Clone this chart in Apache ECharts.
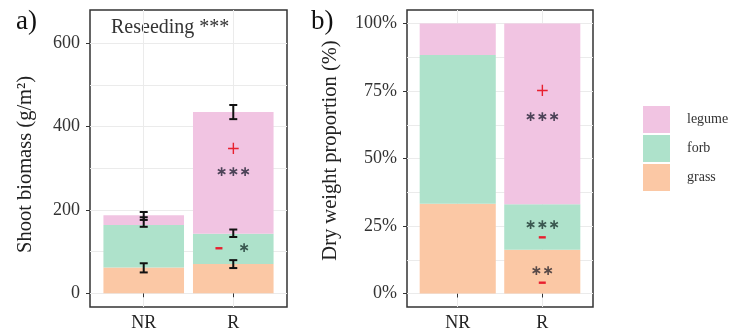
<!DOCTYPE html>
<html>
<head>
<meta charset="utf-8">
<script src="https://cdn.jsdelivr.net/npm/echarts@6/dist/echarts.min.js"></script>
<style>
  html, body { margin: 0; padding: 0; background: #fff; }
  #main { width: 730px; height: 332px; }
</style>
</head>
<body>
<div id="main"></div>
<script>
// categories and groups
const categories = ['NR', 'R'];
const groups = ['grass', 'forb', 'legume'];

// a) shoot biomass (g/m2), stacked segment heights
const biomassGrass = [62, 70];
const biomassForb = [102, 73];
const biomassLegume = [23, 292];

// a) error bars: cumulative mean and se per group
const errGrassMean = [61, 70];
const errGrassSe = [11, 9.5];
const errForbMean = [171, 144];
const errForbSe = [11.5, 9];
const errLegumeMean = [185.5, 435];
const errLegumeSe = [9.5, 17];

// b) dry weight proportion (%)
const propGrass = [33.2, 16.2];
const propForb = [55.1, 16.9];
const propLegume = [11.7, 66.9];

// tick labels
const ticksA = [0, 200, 400, 600];
const gridLinesA = [0, 100, 200, 300, 400, 500, 600];
const ticksB = [0, 25, 50, 75, 100];
const gridLinesB = [0, 12.5, 25, 37.5, 50, 62.5, 75, 87.5, 100];

// significance marks: [category position, value, text, kind]
const marksA = [
  [2, 346, '+', 'up'],
  [2, 290, '∗∗∗', 'sig'],
  [1.84, 108, '-', 'down'],
  [2.12, 107, '∗', 'sigForb']
];
const marksB = [
  [2, 74.7, '+', 'up'],
  [2, 65.3, '∗∗∗', 'sig'],
  [2, 25.1, '∗∗∗', 'sigForb'],
  [2, 20.8, '-', 'down'],
  [2, 8.3, '∗∗', 'sigGrass'],
  [2, 4.0, '-', 'down']
];

const colors = { grass: '#fbc8a5', forb: '#aee2cb', legume: '#f1c4e2' };
const markColors = { up: '#e8202f', down: '#e8202f', sig: '#4d4358', sigForb: '#3a5850', sigGrass: '#594a48' };
const serif = '"Liberation Serif", "DejaVu Serif", serif';

let myChart = echarts.init(document.getElementById('main'));

let makeX = function (gridIndex) {
  return {
    type: 'value',
    gridIndex: gridIndex,
    min: 0.4,
    max: 2.6,
    axisLine: { show: false },
    axisTick: { show: true, customValues: [1, 2], length: 4, lineStyle: { color: '#333' } },
    axisLabel: {
      customValues: [1, 2],
      formatter: function (v) { return categories[Math.round(v) - 1]; },
      fontFamily: serif, fontSize: 18, color: '#222', margin: 7
    },
    splitLine: { show: true, lineStyle: { color: '#ebebeb', width: 1 } }
  };
};

let makeYLines = function (gridIndex, min, max, lines) {
  return {
    type: 'value', gridIndex: gridIndex, min: min, max: max, position: 'left',
    axisLine: { show: false },
    axisTick: { show: false, customValues: lines },
    axisLabel: { show: false },
    splitLine: { show: true, lineStyle: { color: '#ebebeb', width: 1 } }
  };
};

let makeYLabels = function (gridIndex, min, max, ticks, fmt, name, gap, pad) {
  return {
    type: 'value', gridIndex: gridIndex, min: min, max: max, position: 'left',
    name: name, nameLocation: 'middle', nameGap: gap, nameRotate: 90,
    nameTextStyle: { fontFamily: serif, fontSize: 20.5, color: '#222', padding: pad },
    axisLine: { show: false },
    axisTick: { show: true, customValues: ticks, length: 4, lineStyle: { color: '#333' } },
    axisLabel: { customValues: ticks, formatter: fmt, fontFamily: serif, fontSize: 18, color: '#333', margin: 10 },
    splitLine: { show: false }
  };
};

// stacked bars drawn as custom rects: [x, start, end]
let renderBar = function (params, api) {
  let x = api.value(0);
  let p0 = api.coord([x, api.value(1)]);
  let p1 = api.coord([x, api.value(2)]);
  let w = api.size([0.9, 0])[0];
  return {
    type: 'rect',
    shape: { x: p0[0] - w / 2, y: p1[1], width: w, height: p0[1] - p1[1] },
    style: { fill: api.visual('color') }
  };
};

let series = [];
let panelData = [
  { grass: biomassGrass, forb: biomassForb, legume: biomassLegume },
  { grass: propGrass, forb: propForb, legume: propLegume }
];
panelData.forEach(function (p, pi) {
  let base = categories.map(function () { return 0; });
  groups.forEach(function (g) {
    let data = p[g].map(function (v, i) {
      let d = [i + 1, base[i], base[i] + v];
      base[i] += v;
      return d;
    });
    series.push({
      type: 'custom',
      name: g,
      xAxisIndex: pi,
      yAxisIndex: pi * 2,
      silent: true,
      z: 2,
      itemStyle: { color: colors[g] },
      encode: { x: 0, y: [1, 2] },
      data: data,
      renderItem: renderBar
    });
  });
});

// error bars on panel a
let errData = [];
[[errGrassMean, errGrassSe], [errForbMean, errForbSe], [errLegumeMean, errLegumeSe]].forEach(function (e) {
  for (let i = 0; i < categories.length; i++) {
    errData.push([i + 1, e[0][i], e[1][i]]);
  }
});
series.push({
  type: 'custom',
  xAxisIndex: 0,
  yAxisIndex: 0,
  silent: true,
  z: 5,
  data: errData,
  renderItem: function (params, api) {
    let x = api.value(0), m = api.value(1), s = api.value(2);
    let top = api.coord([x, m + s]);
    let bot = api.coord([x, m - s]);
    let w = 4;
    let style = { stroke: '#111', lineWidth: 2 };
    return {
      type: 'group',
      children: [
        { type: 'line', shape: { x1: top[0], y1: top[1], x2: bot[0], y2: bot[1] }, style: style },
        { type: 'line', shape: { x1: top[0] - w, y1: top[1], x2: top[0] + w, y2: top[1] }, style: style },
        { type: 'line', shape: { x1: bot[0] - w, y1: bot[1], x2: bot[0] + w, y2: bot[1] }, style: style }
      ]
    };
  }
});

// significance marks
let markSeries = function (marks, pi) {
  return {
    type: 'custom',
    xAxisIndex: pi,
    yAxisIndex: pi * 2,
    silent: true,
    z: 6,
    data: marks.map(function (m) { return [m[0], m[1]]; }),
    renderItem: function (params, api) {
      let m = marks[params.dataIndex];
      let c = api.coord([m[0], m[1]]);
      if (m[3] === 'down') {
        return {
          type: 'rect',
          shape: { x: c[0] - 3.5, y: c[1] - 1.2, width: 7, height: 2.4 },
          style: { fill: markColors.down }
        };
      }
      return {
        type: 'text',
        x: c[0], y: c[1],
        style: {
          text: m[2],
          fill: markColors[m[3]],
          font: (m[3] === 'up' ? '17px ' : 'bold 14px ') + '"DejaVu Sans", sans-serif',
          align: 'center',
          verticalAlign: 'middle'
        }
      };
    }
  };
};
series.push(markSeries(marksA, 0));
series.push(markSeries(marksB, 1));

let option = {
  animation: false,
  backgroundColor: '#fff',
  grid: [
    { left: 90, top: 10, width: 197, height: 300, show: true, borderColor: '#333', borderWidth: 1.5 },
    { left: 407, top: 10, width: 186, height: 300, show: true, borderColor: '#333', borderWidth: 1.5 }
  ],
  xAxis: [makeX(0), makeX(1)],
  yAxis: [
    makeYLines(0, -33, 680, gridLinesA),
    makeYLabels(0, -33, 680, ticksA, function (v) { return String(v); }, 'Shoot biomass (g/m²)', 54, [0, 12, 0, 0]),
    makeYLines(1, -5, 105, gridLinesB),
    makeYLabels(1, -5, 105, ticksB, function (v) { return v + '%'; }, 'Dry weight proportion (%)', 66, [0, 0, 0, 16])
  ],
  legend: {
    data: ['legume', 'forb', 'grass'],
    orient: 'vertical',
    left: 638,
    top: 101,
    itemWidth: 27,
    itemHeight: 27,
    itemGap: 2,
    icon: 'rect',
    selectedMode: false,
    textStyle: { fontFamily: serif, fontSize: 14, color: '#333', padding: [0, 0, 0, 12] }
  },
  graphic: [
    { type: 'text', left: 16, top: 8, style: { text: 'a)', font: '27px ' + serif, fill: '#111' } },
    { type: 'text', left: 311, top: 8, style: { text: 'b)', font: '27px ' + serif, fill: '#111' } },
    { type: 'text', left: 111, top: 18, style: { text: 'Reseeding ***', font: '20px ' + serif, fill: '#333' } }
  ],
  series: series
};
myChart.setOption(option);
</script>
</body>
</html>
